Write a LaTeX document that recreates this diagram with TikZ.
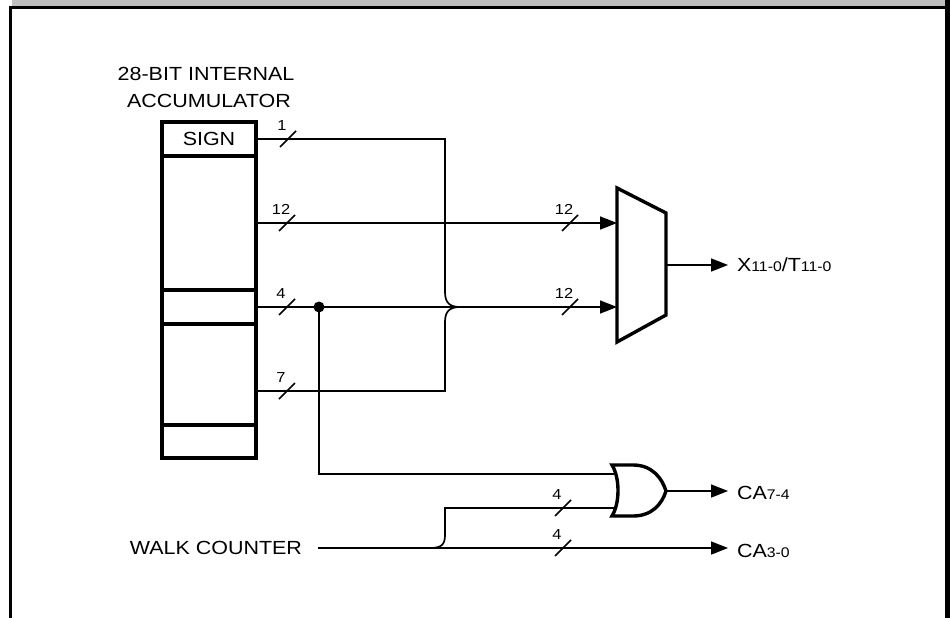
\documentclass[tikz,border=0pt]{standalone}
\usepackage{fontspec}
\setmainfont{Liberation Sans}[FakeStretch=1.13]
\usetikzlibrary{arrows.meta}
\newcommand\subsz{\fontsize{14}{16}\selectfont}
\newcommand\busmark[4]{%
  \draw[tickmark] (#2-8,#3+8) -- (#2+8,#3-8);
  \node[small, anchor=base] (#1) at (#2-6,#3-8.5) {#4};}
\begin{document}
\begin{tikzpicture}[x=1pt,y=-1pt,
  wire/.style={line width=1.7pt},
  thickbox/.style={line width=3.2pt},
  gate/.style={line width=3.4pt, line join=miter},
  tickmark/.style={line width=1.7pt},
  arr/.style={wire,-{Triangle[length=17pt,width=13pt]}},
  lbl/.style={font=\fontsize{19}{23}\selectfont, inner sep=0pt, outer sep=0pt},
  small/.style={font=\fontsize{14.5}{17}\selectfont, inner sep=0pt},
]
\useasboundingbox (0,0) rectangle (950,618);

% frame
\fill[gray!50] (12,0) rectangle (946,6);
\draw[line width=3pt] (10,7.5) -- (947,7.5);
\draw[line width=3.5pt] (10.5,6) -- (10.5,618);
\draw[line width=4.5pt] (947.5,0) -- (947.5,618);

% title
\node[lbl, anchor=base] (title1) at (206,81) {28-BIT INTERNAL};
\node[lbl, anchor=base] (title2) at (209,107) {ACCUMULATOR};

% accumulator
\node[draw, thickbox, minimum width=94pt, minimum height=336pt, inner sep=0pt,
      outer sep=0pt, anchor=north west] (acc) at (162,122) {};
\node[draw, thickbox, minimum width=94pt, minimum height=34pt, inner sep=0pt,
      outer sep=0pt, anchor=north west, font=\fontsize{19}{23}\selectfont] (sign) at (162,122) {SIGN};
\draw[thickbox] (acc.west |- 0,290) -- (acc.east |- 0,290);
\draw[thickbox] (acc.west |- 0,324) -- (acc.east |- 0,324);
\draw[thickbox] (acc.west |- 0,425) -- (acc.east |- 0,425);

% multiplexer
\draw[gate] (617,188) -- (666,213) -- (666,315) -- (617,342) -- cycle;
\coordinate (muxin1) at (617,223);
\coordinate (muxin2) at (617,307);
\coordinate (muxout) at (666,265);

% OR gate
\draw[gate] (612,465) -- (633,465) .. controls (652,465) and (662,478) .. (666,491)
  .. controls (662,504) and (652,516) .. (633,516) -- (612,516)
  .. controls (620,503) and (620,478) .. (612,465) -- cycle;
\coordinate (orin1) at (614,474);
\coordinate (orin2) at (614,508);
\coordinate (orout) at (666,491);

% output labels
\node[lbl, anchor=base west] (xlab) at (737,271.5) {X{\subsz 11-0}/T{\subsz 11-0}};
\node[lbl, anchor=base west] (ca74) at (737,499) {CA{\subsz 7-4}};
\node[lbl, anchor=base west] (ca30) at (737,557) {CA{\subsz 3-0}};
\node[lbl, anchor=east] (walk) at (302,548) {WALK COUNTER};

% bus: sign + 7 bits merge into the 4-bit line
\draw[wire] (sign.east) -- (445,139) -- (445,292)
  .. controls (445,303) and (450,307) .. (460,307);
\draw[wire] (460,307) .. controls (450,307) and (445,311) .. (445,322)
  -- (445,391) -- (acc.east |- 0,391);

% mux inputs
\draw[arr] (acc.east |- 0,223) -- (muxin1);
\draw[arr] (acc.east |- 0,307) -- (muxin2);
\draw[arr, shorten >=9pt] (muxout) -- (muxout -| xlab.west);

% tap to OR gate
\node[circle, fill, inner sep=0pt, minimum size=11pt] (dot) at (319,307) {};
\draw[wire] (dot.center) -- (319,474) -- (orin1);
\draw[arr, shorten >=9pt] (orout) -- (orout -| ca74.west);

% walk counter
\coordinate (wc) at (318,548);
\draw[arr, shorten >=9pt] (wc) -- (wc -| ca30.west);
\draw[wire] (430,548) .. controls (441,548) and (445,545) .. (445,535)
  -- (445,508) -- (orin2);

% bus widths
\busmark{b1}{288}{139}{1}
\busmark{b12}{287}{223}{12}
\busmark{b4}{287}{307}{4}
\busmark{b7}{287}{391}{7}
\busmark{m12a}{570}{223}{12}
\busmark{m12b}{570}{307}{12}
\busmark{o4}{563}{508}{4}
\busmark{c4}{563}{548}{4}
\end{tikzpicture}
\end{document}
